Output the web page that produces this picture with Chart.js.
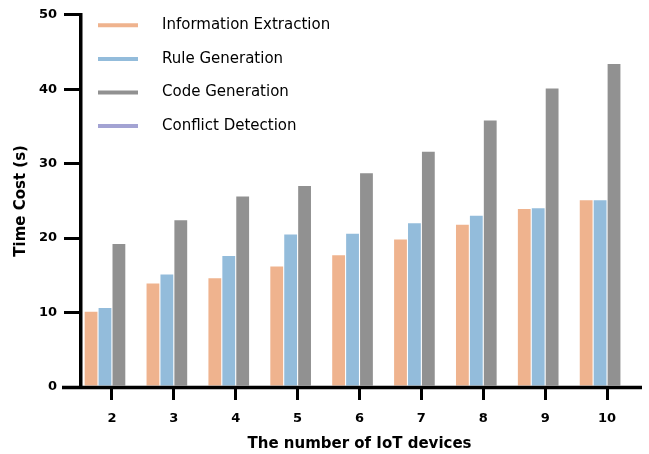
<!DOCTYPE html>
<html>
<head>
<meta charset="utf-8">
<script src="https://cdn.jsdelivr.net/npm/chart.js@4/dist/chart.umd.min.js"></script>
<style>
html,body{margin:0;padding:0;background:#fff;}
#wrap{width:649px;height:454px;position:relative;}
</style>
</head>
<body>
<div id="wrap"><canvas id="c" width="649" height="454"></canvas></div>
<script>
const categories = ['2','3','4','5','6','7','8','9','10'];
const infoExtraction = [10.1, 13.9, 14.6, 16.2, 17.7, 19.8, 21.8, 23.9, 25.1];
const ruleGeneration = [10.6, 15.1, 17.6, 20.5, 20.6, 22.0, 23.0, 24.0, 25.1];
const codeGeneration = [19.2, 22.4, 25.6, 27.0, 28.7, 31.6, 35.8, 40.1, 43.4];
const conflictDetection = [0, 0, 0, 0, 0, 0, 0, 0, 0];
const seriesNames = ['Information Extraction','Rule Generation','Code Generation','Conflict Detection'];
const seriesColors = ['#EFB38E','#93BCDB','#919191','#A3A3D3'];
const yTicks = [0,10,20,30,40,50];

const FONT = "'DejaVu Sans', Verdana, sans-serif";

const legendPlugin = {
  id: 'insideLegend',
  afterDraw(chart) {
    const ctx = chart.ctx;
    const a = chart.chartArea;
    ctx.save();
    chart.data.datasets.forEach((ds, i) => {
      const y = a.top + 10.5 + i * 33.6;
      ctx.strokeStyle = ds.backgroundColor;
      ctx.lineWidth = 4;
      ctx.beginPath();
      ctx.moveTo(a.left + 17, y);
      ctx.lineTo(a.left + 57, y);
      ctx.stroke();
      ctx.fillStyle = '#000';
      ctx.font = '15px ' + FONT;
      ctx.textBaseline = 'middle';
      ctx.textAlign = 'left';
      ctx.fillText(ds.label, a.left + 81, y);
    });
    ctx.restore();
  }
};

const axisExtPlugin = {
  id: 'axisExt',
  afterDraw(chart) {
    const ctx = chart.ctx;
    const a = chart.chartArea;
    const ys = chart.scales.y;
    ctx.save();
    ctx.strokeStyle = '#000';
    ctx.lineWidth = 3.5;
    ctx.beginPath();
    ctx.moveTo(a.left - 19, ys.getPixelForValue(0) + 0.5);
    ctx.lineTo(a.right + 4, ys.getPixelForValue(0) + 0.5);
    ctx.stroke();
    ctx.restore();
  }
};

const dataArrays = [infoExtraction, ruleGeneration, codeGeneration, conflictDetection];

new Chart(document.getElementById('c'), {
  type: 'bar',
  data: {
    labels: categories,
    datasets: dataArrays.map((d, i) => ({
      label: seriesNames[i],
      data: d,
      backgroundColor: seriesColors[i],
      borderWidth: 0,
      categoryPercentage: 0.9,
      barPercentage: 0.92
    }))
  },
  options: {
    responsive: false,
    animation: false,
    layout: { padding: { top: 14, right: 11, left: 0, bottom: 0 } },
    plugins: { legend: { display: false }, tooltip: { enabled: false } },
    scales: {
      x: {
        afterFit(s) { s.height = 67; },
        grid: { drawOnChartArea: false, drawTicks: true, tickLength: 13, offset: false, color: '#000', lineWidth: 3 },
        border: { display: false },
        ticks: { color: '#000', padding: 11, font: { family: FONT, size: 13, weight: 'bold' } },
        title: { display: true, text: 'The number of IoT devices', color: '#000', padding: { top: 0, bottom: 1 }, font: { family: FONT, size: 15, weight: 'bold' } }
      },
      y: {
        min: 0, max: 50,
        afterFit(s) { s.width = 81; },
        afterBuildTicks(s) { s.ticks = yTicks.map(v => ({ value: v })); },
        grid: { drawOnChartArea: false, drawTicks: true, tickLength: 17, color: '#000', lineWidth: 3 },
        border: { display: true, color: '#000', width: 3.5 },
        ticks: { color: '#000', padding: 7, font: { family: FONT, size: 13, weight: 'bold' } },
        title: { display: true, text: 'Time Cost (s)', color: '#000', padding: { top: 12, bottom: 0 }, font: { family: FONT, size: 15, weight: 'bold' } }
      }
    }
  },
  plugins: [legendPlugin, axisExtPlugin]
});
</script>
</body>
</html>
